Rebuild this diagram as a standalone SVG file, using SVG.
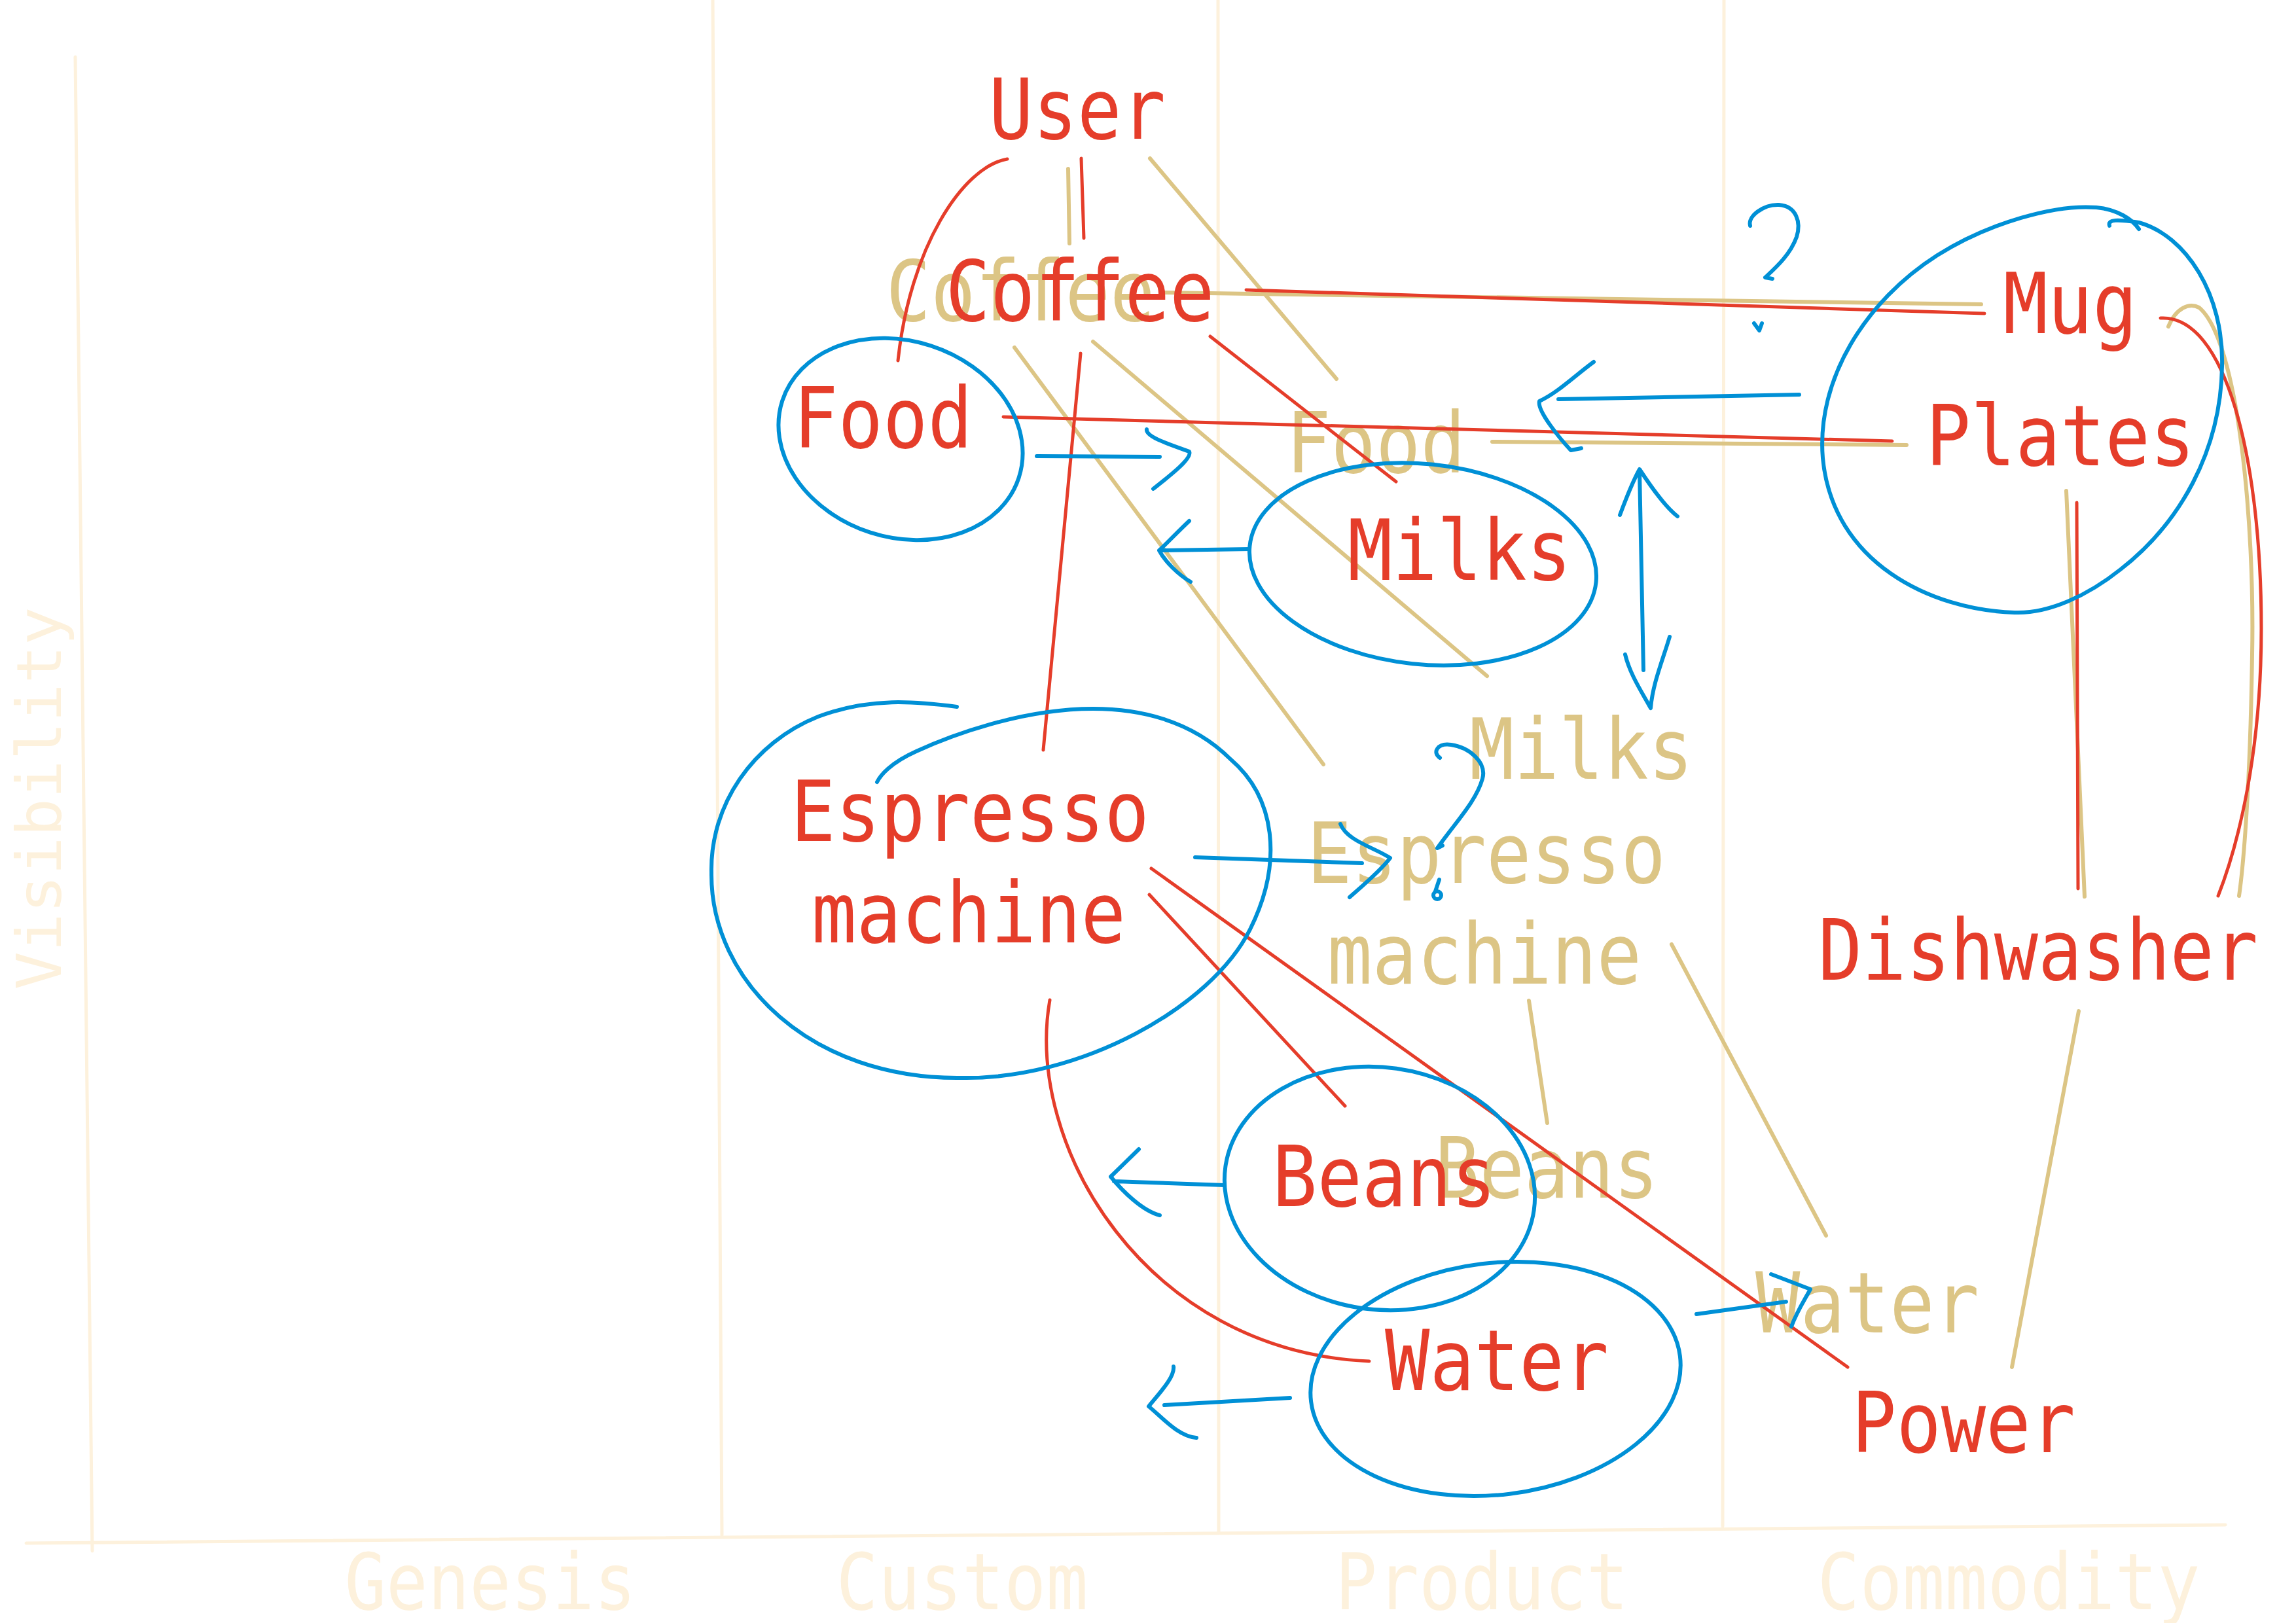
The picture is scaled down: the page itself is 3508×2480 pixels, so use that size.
<svg xmlns="http://www.w3.org/2000/svg" width="3508" height="2480" viewBox="0 0 3508 2480">
<style>
.lbl{font-family:'DejaVu Sans Mono','Liberation Mono',monospace;font-size:129px;text-anchor:middle}
.axl{font-family:'DejaVu Sans Mono','Liberation Mono',monospace;font-size:120px;text-anchor:middle;fill:#fdf1dc}
.r{fill:#e53d2a}
.t{fill:#dcc585}
.ax{stroke:#fdf1dc;stroke-width:5;fill:none;stroke-linecap:round}
.tl{stroke:#dcc585;stroke-width:6;fill:none;stroke-linecap:round}
.rl{stroke:#e53d2a;stroke-width:5;fill:none;stroke-linecap:round}
.bl{stroke:#0090d6;stroke-width:6;fill:none;stroke-linecap:round;stroke-linejoin:round}
</style>
<rect width="3508" height="2480" fill="#ffffff"/>
<g id="axes">
<path class="ax" d="M115,87 L141,2370"/>
<path class="ax" d="M40,2358 L3400,2330"/>
<path class="ax" d="M1089,0 L1103,2346"/>
<path class="ax" d="M1861,0 L1862,2340"/>
<path class="ax" d="M2634,0 L2632,2332"/>
<text class="axl" x="749" y="2459" textLength="445" lengthAdjust="spacingAndGlyphs">Genesis</text>
<text class="axl" x="1470" y="2459" textLength="385" lengthAdjust="spacingAndGlyphs">Custom</text>
<text class="axl" x="2264" y="2459" textLength="448" lengthAdjust="spacingAndGlyphs">Product</text>
<text class="axl" x="3069" y="2459" textLength="585" lengthAdjust="spacingAndGlyphs">Commodity</text>
<text class="axl" style="font-size:95px" transform="translate(93,1220) rotate(-90)" x="0" y="0" textLength="585" lengthAdjust="spacingAndGlyphs">Visibility</text>
</g>
<g id="previous-nodes">
<g id="coffee-prev"><text class="lbl t" x="1559" y="490" textLength="411" lengthAdjust="spacingAndGlyphs">Coffee</text></g>
<g id="food-prev"><text class="lbl t" x="2102" y="722" textLength="274" lengthAdjust="spacingAndGlyphs">Food</text></g>
<g id="milks-prev"><text class="lbl t" x="2416" y="1190" textLength="342" lengthAdjust="spacingAndGlyphs">Milks</text></g>
<g id="espresso-prev"><text class="lbl t" x="2271" y="1349" textLength="548" lengthAdjust="spacingAndGlyphs">Espresso</text><text class="lbl t" x="2268" y="1503" textLength="480" lengthAdjust="spacingAndGlyphs">machine</text></g>
<g id="beans-prev"><text class="lbl t" x="2363" y="1830" textLength="342" lengthAdjust="spacingAndGlyphs">Beans</text></g>
<g id="water-prev"><text class="lbl t" x="2853" y="2036" textLength="342" lengthAdjust="spacingAndGlyphs">Water</text></g>
</g>
<g id="connectors">
<path class="tl" d="M1632,258 L1634,372"/>
<path class="tl" d="M1757,242 L2042,579"/>
<path class="tl" d="M1773,447 L3027,465"/>
<path class="tl" d="M1550,531 L2022,1168"/>
<path class="tl" d="M1670,522 L2272,1033"/>
<path class="tl" d="M2280,675 L2913,680"/>
<path class="tl" d="M2336,1529 L2364,1716"/>
<path class="tl" d="M2554,1443 L2790,1888"/>
<path class="tl" d="M3157,750 L3185,1370"/>
<path class="tl" d="M3313,499 C3325,470 3345,462 3360,470 C3420,520 3445,800 3441,1000 C3438,1200 3428,1320 3421,1369"/>
<path class="tl" d="M3176,1545 L3074,2089"/>
<path class="rl" d="M1652,242 L1656,364"/>
<path class="rl" d="M1539,243 C1470,255 1390,380 1372,551"/>
<path class="rl" d="M1904,443 L3032,479"/>
<path class="rl" d="M1849,514 L2133,736"/>
<path class="rl" d="M1533,637 L2891,674"/>
<path class="rl" d="M1651,540 L1594,1146"/>
<path class="rl" d="M1756,1367 L2055,1690"/>
<path class="rl" d="M1759,1327 L2823,2089"/>
<path class="rl" d="M1604,1528 C1565,1750 1750,2065 2092,2080"/>
<path class="rl" d="M3173,768 L3175,1358"/>
<path class="rl" d="M3301,486 C3400,480 3455,700 3455,960 C3455,1150 3420,1290 3389,1369"/>
</g>
<g id="nodes">
<g id="user"><text class="lbl r" x="1646" y="212" textLength="270" lengthAdjust="spacingAndGlyphs">User</text></g>
<g id="coffee"><text class="lbl r" x="1650" y="490" textLength="411" lengthAdjust="spacingAndGlyphs">Coffee</text></g>
<g id="food"><text class="lbl r" x="1349" y="684" textLength="274" lengthAdjust="spacingAndGlyphs">Food</text></g>
<g id="milks"><text class="lbl r" x="2230" y="886" textLength="342" lengthAdjust="spacingAndGlyphs">Milks</text></g>
<g id="mug"><text class="lbl r" x="3163" y="509" textLength="205" lengthAdjust="spacingAndGlyphs">Mug</text></g>
<g id="plates"><text class="lbl r" x="3148" y="711" textLength="411" lengthAdjust="spacingAndGlyphs">Plates</text></g>
<g id="espresso-machine"><text class="lbl r" x="1482" y="1285" textLength="548" lengthAdjust="spacingAndGlyphs">Espresso</text><text class="lbl r" x="1480" y="1440" textLength="480" lengthAdjust="spacingAndGlyphs">machine</text></g>
<g id="beans"><text class="lbl r" x="2115" y="1843" textLength="342" lengthAdjust="spacingAndGlyphs">Beans</text></g>
<g id="water"><text class="lbl r" x="2287" y="2124" textLength="342" lengthAdjust="spacingAndGlyphs">Water</text></g>
<g id="dishwasher"><text class="lbl r" x="3114" y="1497" textLength="672" lengthAdjust="spacingAndGlyphs">Dishwasher</text></g>
<g id="power"><text class="lbl r" x="3000" y="2219" textLength="342" lengthAdjust="spacingAndGlyphs">Power</text></g>
</g>
<g id="annotations">
<ellipse class="bl" cx="1376" cy="671" rx="190" ry="150" transform="rotate(18 1376 671)"/>
<ellipse class="bl" cx="2174" cy="862" rx="266" ry="153" transform="rotate(6 2174 862)"/>
<ellipse class="bl" cx="2108" cy="1816" rx="238" ry="185" transform="rotate(8 2108 1816)"/>
<ellipse class="bl" cx="2285" cy="2107" rx="284" ry="177" transform="rotate(-7 2285 2107)"/>
<path class="bl" d="M3223,345 C3220,335 3235,335 3268,340 C3340,360 3398,450 3395,560 C3393,690 3330,800 3240,870 C3190,910 3130,938 3078,936 C2950,932 2800,860 2785,700 C2775,580 2850,460 2960,390 C3040,340 3140,312 3203,317 C3235,320 3258,335 3268,350"/>
<path class="bl" d="M1462,1080 C1400,1072 1330,1065 1250,1095 C1150,1135 1085,1230 1087,1333 C1085,1500 1240,1650 1469,1647 C1650,1650 1850,1540 1910,1420 C1960,1320 1950,1220 1880,1160 C1820,1100 1740,1083 1670,1083 C1560,1083 1450,1125 1400,1148 C1360,1166 1345,1185 1340,1195"/>
<path class="bl" d="M1584,697 L1772,698 M1752,656 C1750,668 1790,680 1817,690 C1822,700 1790,725 1762,747"/>
<path class="bl" d="M1909,839 L1775,841 M1817,796 C1800,812 1785,828 1771,841 C1780,858 1800,878 1819,889"/>
<path class="bl" d="M2749,603 L2381,610 M2435,553 C2405,575 2380,600 2352,613 C2348,628 2385,672 2400,688 L2416,685"/>
<path class="bl" d="M2505,720 L2511,1024 M2475,787 C2485,760 2495,735 2505,717 C2520,740 2545,775 2563,789 M2483,1000 C2490,1030 2510,1060 2522,1082 C2525,1045 2540,1010 2551,973"/>
<path class="bl" d="M2674,345 C2670,330 2695,312 2718,313 C2745,315 2752,340 2745,362 C2735,390 2712,410 2697,424 L2708,426 M2680,494 L2688,505 L2692,494"/>
<path class="bl" d="M1826,1310 L2081,1319 M2048,1259 C2058,1285 2100,1295 2124,1311 C2110,1330 2080,1355 2062,1371"/>
<path class="bl" d="M2200,1158 C2188,1150 2196,1135 2217,1138 C2245,1142 2272,1165 2265,1190 C2255,1225 2225,1255 2196,1296 L2204,1292 M2199,1344 L2193,1362 M2190,1368 a6,6 0 1,0 12,0 a6,6 0 1,0 -12,0"/>
<path class="bl" d="M1871,1811 L1702,1805 M1740,1756 L1697,1798 C1715,1820 1745,1850 1772,1857"/>
<path class="bl" d="M1971,2136 L1779,2147 M1793,2088 C1795,2105 1770,2130 1755,2149 C1775,2165 1800,2195 1828,2197"/>
<path class="bl" d="M2592,2008 L2729,1989 M2706,1947 L2766,1970 C2755,1990 2745,2005 2737,2027"/>
</g>
</svg>
